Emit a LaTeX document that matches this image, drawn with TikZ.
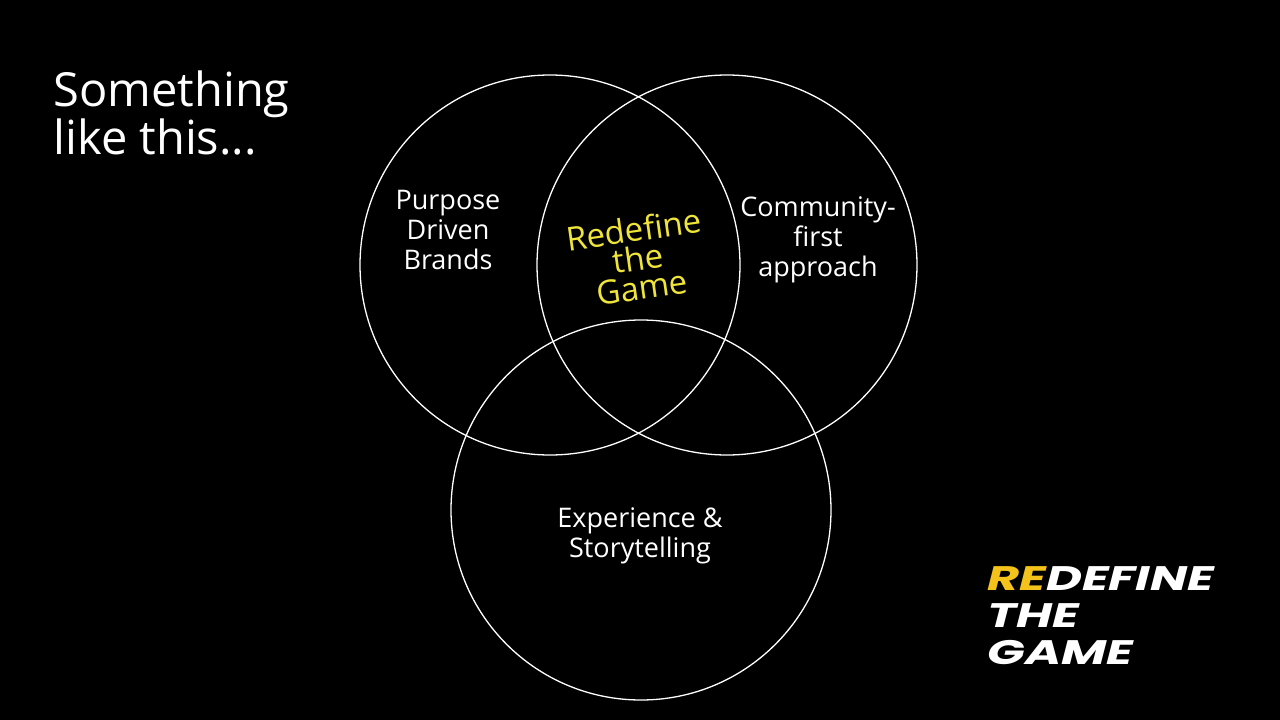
\documentclass[tikz,border=0pt]{standalone}
\usepackage{fontspec}
\setmainfont{Open Sans}
\newfontfamily\brandfont[FakeStretch=1.45]{Poppins}
\usetikzlibrary{positioning}
\definecolor{hiyellow}{HTML}{EFE43A}
\definecolor{brandyellow}{HTML}{F5C21B}

\begin{document}
\begin{tikzpicture}[
    x=1pt, y=-1pt,
    ring/.style={
        draw=white,
        line width=1.3pt,
        circle,
        minimum size=380pt,
        inner sep=0pt
    },
    hand/.style={
        text=white,
        font=\fontsize{27}{30}\selectfont,
        align=center
    }
]

% Background
\fill[black] (0,0) rectangle (1280,720);
\useasboundingbox (0,0) rectangle (1280,720);

% Rings
\node[ring] (purpose) at (550,265) {};
\node[ring] (community) at (727,265) {};
\node[ring] (story) at (641,510) {};

% Ring texts
\node[hand] (purposetext) at (448,230) {Purpose\\Driven\\Brands};
\node[hand] (communitytext) at (818,240) {Community-\\first\\approach};
\node[hand] (storytext) at (640,536) {Experience \&\\Storytelling};
\node[hand, text=hiyellow, font=\fontsize{33}{29}\selectfont, rotate=8] (middle) at (638,258) {Redefine\\the\\Game};

% Corner texts
\node[hand, align=left, anchor=west, font=\fontsize{47}{40}\selectfont] (intro) at (50,113) {Something\\like this...};
\node[anchor=north west, align=left, text=white, font=\brandfont\bfseries\itshape\fontsize{34}{37}\selectfont] (brand) at (984,563) {{\color{brandyellow}RE}DEFINE\\THE\\GAME};

\end{tikzpicture}
\end{document}
